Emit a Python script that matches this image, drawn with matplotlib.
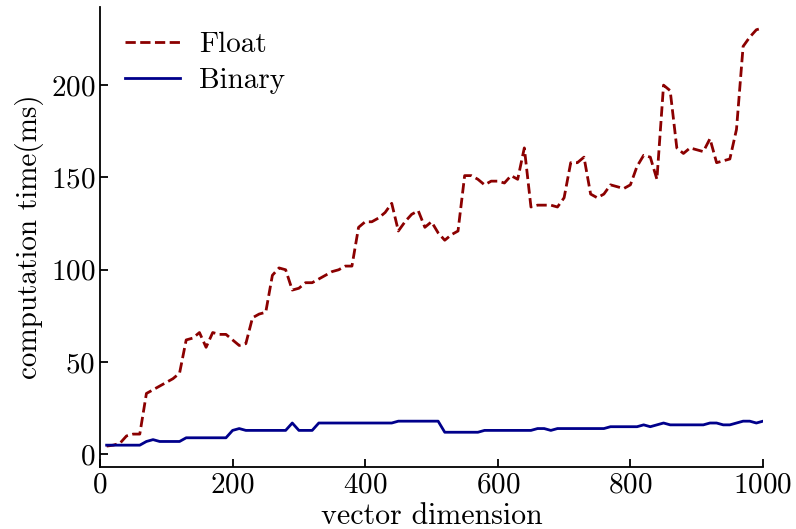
import matplotlib
matplotlib.use("Agg")
import matplotlib.pyplot as plt
import numpy as np

dims = list(range(10, 1001, 10))

float_times = [4.5, 5, 6, 10, 11, 11, 33, 35, 37, 39,
               41, 44, 62, 63, 66, 58, 66, 65, 65, 62,
               59, 60, 74, 76, 77, 97, 101, 100, 89, 90,
               93, 93, 95, 97, 99, 100, 102, 102, 123, 126,
               126, 128, 131, 136, 121, 126, 130, 132, 123, 126,
               120, 116, 119, 121, 151, 151, 149, 146, 148, 148,
               147, 151, 149, 166, 134, 135, 135, 135, 134, 139,
               158, 158, 161, 141, 139, 141, 146, 145, 144, 146,
               156, 162, 161, 149, 200, 197, 166, 163, 166, 165,
               164, 171, 158, 159, 160, 176, 221, 226, 230, 231]

binary_times = [5, 5, 5, 5, 5, 5, 7, 8, 7, 7,
                7, 7, 9, 9, 9, 9, 9, 9, 9, 13,
                14, 13, 13, 13, 13, 13, 13, 13, 17, 13,
                13, 13, 17, 17, 17, 17, 17, 17, 17, 17,
                17, 17, 17, 17, 18, 18, 18, 18, 18, 18,
                18, 12, 12, 12, 12, 12, 12, 13, 13, 13,
                13, 13, 13, 13, 13, 14, 14, 13, 14, 14,
                14, 14, 14, 14, 14, 14, 15, 15, 15, 15,
                15, 16, 15, 16, 17, 16, 16, 16, 16, 16,
                16, 17, 17, 16, 16, 17, 18, 18, 17, 18]

labels = ["Float", "Binary"]

plt.rcParams["font.family"] = ["cmr10", "DejaVu Serif"]
plt.rcParams["axes.formatter.use_mathtext"] = True
plt.rcParams["mathtext.fontset"] = "cm"

fig = plt.figure(figsize=(7.96, 5.29), dpi=100)
ax = fig.add_axes([100/796, 1-467/529, (763-100)/796, (467-7)/529])

ax.plot(dims, float_times, color="#8B0000", linestyle="--", linewidth=2, label=labels[0])
ax.plot(dims, binary_times, color="#00008B", linestyle="-", linewidth=2, label=labels[1])

ax.set_xlim(0, 1000)
ax.spines["top"].set_visible(False)
ax.spines["right"].set_visible(False)
ax.tick_params(direction="in", length=6, width=1.3, labelsize=21)
for s in ["left", "bottom"]:
    ax.spines[s].set_linewidth(1.3)

ax.set_xlabel("vector dimension", fontsize=21.5, labelpad=3)
ax.set_ylabel("computation time(ms)", fontsize=21, labelpad=5)

ax.legend(loc="upper left", frameon=False, fontsize=21, handlelength=1.9,
          handletextpad=0.65, labelspacing=0.32, borderaxespad=0.45)

fig.savefig("out.png", dpi=100)
